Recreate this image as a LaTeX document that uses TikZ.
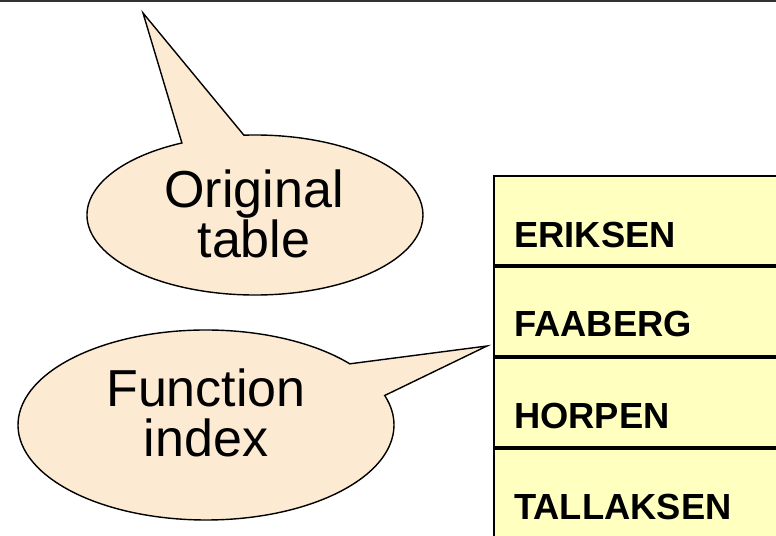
\documentclass[tikz,border=0pt]{standalone}
\usepackage{fontspec}
\setmainfont{Liberation Sans}
\usetikzlibrary{shapes.callouts,calc,positioning}

\definecolor{bubblefill}{HTML}{FCEBD2}
\definecolor{rowfill}{HTML}{FFFFC0}

\tikzset{
  bubble/.style={ellipse callout, draw=black, fill=bubblefill, line width=1.2pt,
    inner sep=0pt, callout pointer arc=22},
  bubbletext/.style={align=center, inner sep=0pt},
  rowbox/.style={draw=black, fill=rowfill, line width=1.6pt, minimum width=9cm,
    minimum height=2.67cm, inner sep=0pt, anchor=north west},
  rowtext/.style={anchor=base west, inner sep=0pt,
    font=\fontsize{31}{36}\selectfont\bfseries},
}

\begin{document}
\begin{tikzpicture}[x=0.03cm,y=0.03cm]
 \useasboundingbox (0,0) rectangle (776,536);
 \clip (0,0) rectangle (776,536);
 %
 \coordinate (tl) at (0,535);
 \coordinate (tr) at (776,535);
 \draw[line width=2pt, black!80] (tl) -- (tr);
 %
 \coordinate (tip1) at (143,523);
 \coordinate (tip2) at (487,190);
 \node[bubble, minimum width=10.08cm, minimum height=4.8cm,
   callout absolute pointer={(tip1)}] (orig) at (255,321) {};
 \node[bubble, minimum width=11.28cm, minimum height=5.7cm,
   callout absolute pointer={(tip2)}] (fidx) at (206,111) {};
 \node[bubbletext, font=\fontsize{44.4}{39.3}\selectfont] (origtxt) at ($(orig.center)+(-1,1)$) {Original\\table};
 \node[bubbletext, font=\fontsize{44.4}{42.7}\selectfont] (fidxtxt) at ($(fidx.center)+(0,12.5)$) {Function\\index};
 %
 \node[rowbox] (r1) at (493,361) {};
 \node[rowbox, below=0pt of r1] (r2) {};
 \node[rowbox, below=0pt of r2] (r3) {};
 \node[rowbox, below=0pt of r3] (r4) {};
 \node[rowtext] (n1) at ($(r1.south west)+(21,18)$) {ERIKSEN};
 \node[rowtext] (n2) at ($(r2.south west)+(21,20)$) {FAABERG};
 \node[rowtext] (n3) at ($(r3.south west)+(21,19)$) {HORPEN};
 \node[rowtext] (n4) at ($(r4.south west)+(21,19)$) {TALLAKSEN};
\end{tikzpicture}
\end{document}
